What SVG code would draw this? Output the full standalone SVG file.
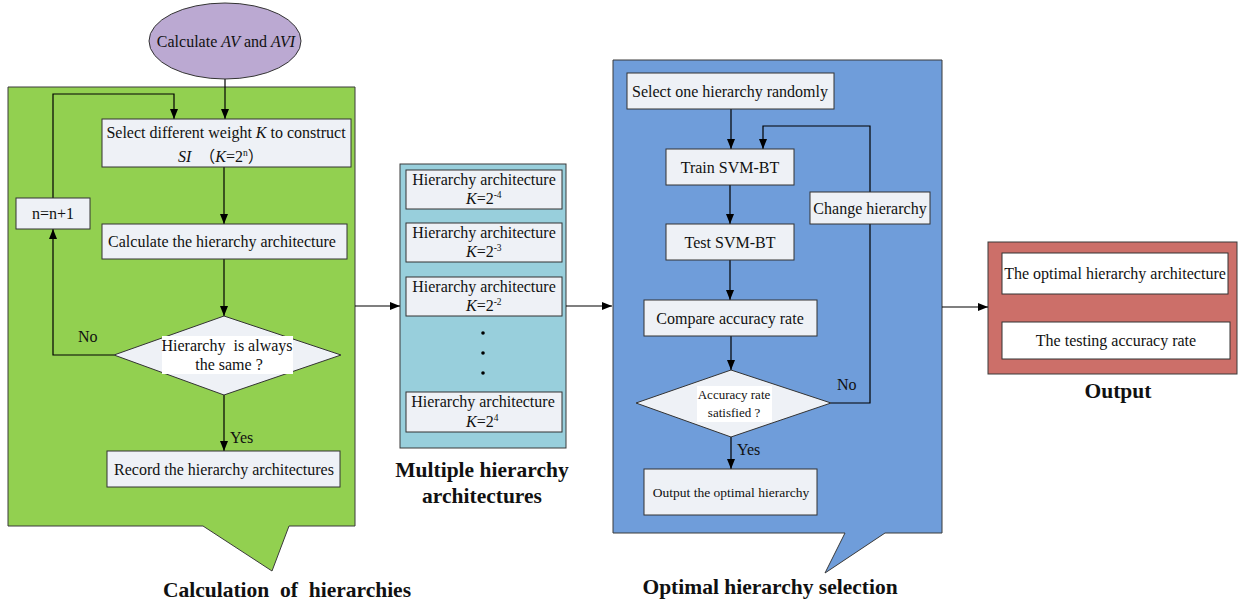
<svg xmlns="http://www.w3.org/2000/svg" width="1245" height="603" viewBox="0 0 1245 603">
<style>
text{font-family:"Liberation Serif","Times New Roman",serif;fill:#111;font-size:16px;white-space:pre}
.cjk{font-family:"Liberation Serif","Noto Sans CJK SC",serif}
.c{text-anchor:middle}
.s{font-size:13px}
.s2{font-size:13.5px}
.b{font-weight:bold;font-size:21.5px}
.i{font-style:italic}
.panel{stroke:#3a3a3a;stroke-width:1}
.box{fill:#EEF1F6;stroke:#333;stroke-width:1}
.wbox{fill:#FFFFFF;stroke:#333;stroke-width:1}
.ln{fill:none;stroke:#000;stroke-width:1.2}
</style>
<defs>
<marker id="ah" viewBox="0 0 10 10" refX="10" refY="5" markerWidth="10" markerHeight="10" markerUnits="userSpaceOnUse" orient="auto">
<path d="M0,1 L10,5 L0,9 Z" fill="#000"/>
</marker>
</defs>
<rect width="1245" height="603" fill="#fff"/>

<g id="panel-calc">
<path class="panel" d="M8,87 H355 V526 H289 L272,571 L203,526 H8 Z" fill="#92D050"/>
<text class="b c" x="287" y="597">Calculation  of  hierarchies</text>
</g>
<g id="panel-multi">
<rect class="panel" x="400" y="164" width="166" height="284" fill="#98CFDC"/>
<text class="b c" x="482" y="477">Multiple hierarchy</text>
<text class="b c" x="482" y="503">architectures</text>
</g>
<g id="panel-opt">
<path class="panel" d="M613,60 H942 V533 H885 L825,573 L845,533 H613 Z" fill="#6F9DDA"/>
<text class="b c" x="770" y="594">Optimal hierarchy selection</text>
</g>
<g id="panel-out">
<rect class="panel" x="988" y="242" width="249" height="132" fill="#CC6F69"/>
<text class="b c" x="1118" y="398">Output</text>
</g>

<g id="connectors">
<line class="ln" x1="225" y1="79" x2="225" y2="119" marker-end="url(#ah)"/>
<polyline class="ln" points="53,198 53,94 174,94 174,119" marker-end="url(#ah)"/>
<line class="ln" x1="224" y1="167" x2="224" y2="224" marker-end="url(#ah)"/>
<line class="ln" x1="224" y1="259" x2="224" y2="316" marker-end="url(#ah)"/>
<polyline class="ln" points="114,355 53,355 53,229" marker-end="url(#ah)"/>
<line class="ln" x1="224" y1="395" x2="224" y2="451" marker-end="url(#ah)"/>
<line class="ln" x1="355" y1="306" x2="400" y2="306" marker-end="url(#ah)"/>
<line class="ln" x1="566" y1="306" x2="612" y2="306" marker-end="url(#ah)"/>
<line class="ln" x1="731" y1="109" x2="731" y2="149" marker-end="url(#ah)"/>
<polyline class="ln" points="870,192 870,126 763,126 763,149" marker-end="url(#ah)"/>
<line class="ln" x1="730" y1="185" x2="730" y2="224" marker-end="url(#ah)"/>
<line class="ln" x1="730" y1="260" x2="730" y2="300" marker-end="url(#ah)"/>
<line class="ln" x1="731" y1="336" x2="731" y2="370" marker-end="url(#ah)"/>
<polyline class="ln" points="831,403 870,403 870,224"/>
<line class="ln" x1="731" y1="437" x2="731" y2="469" marker-end="url(#ah)"/>
<line class="ln" x1="942" y1="307" x2="988" y2="307" marker-end="url(#ah)"/>
<text x="78" y="342">No</text>
<text x="230" y="443">Yes</text>
<text x="837" y="390">No</text>
<text x="737" y="455">Yes</text>
</g>

<g id="n-start">
<ellipse cx="225" cy="41" rx="76" ry="38" fill="#BBA9D2" stroke="#333" stroke-width="1"/>
<text class="c" x="226" y="47" font-size="16.5">Calculate <tspan class="i">AV</tspan> and <tspan class="i">AVI</tspan></text>
</g>
<g id="n-select">
<rect class="box" x="102" y="119" width="249" height="48"/>
<text class="c" x="226" y="138">Select different weight <tspan class="i">K</tspan> to construct</text>
<text class="cjk" x="178" y="162"><tspan class="i">SI</tspan>  （<tspan class="i">K</tspan>=2<tspan font-size="9.5" dy="-6">n</tspan><tspan dy="6">）</tspan></text>
</g>
<g id="n-inc">
<rect class="box" x="16" y="198" width="74" height="31"/>
<text class="c" x="53" y="219">n=n+1</text>
</g>
<g id="n-calc">
<rect class="box" x="102" y="224" width="245" height="35"/>
<text class="c" x="222" y="247">Calculate the hierarchy architecture</text>
</g>
<g id="n-same">
<polygon class="box" points="224,316 341,355 224,395 114,355"/>
<rect x="162" y="336" width="131" height="38" fill="#fff"/>
<text class="c" x="227" y="351">Hierarchy  is always</text>
<text class="c" x="229" y="370">the same ?</text>
</g>
<g id="n-record">
<rect class="box" x="107" y="451" width="233" height="36"/>
<text class="c" x="224" y="475">Record the hierarchy architectures</text>
</g>

<g id="n-h1">
<rect class="box" x="406" y="170" width="156" height="39"/>
<text class="c" x="484" y="185">Hierarchy architecture</text>
<text x="466" y="204"><tspan class="i">K</tspan>=2<tspan font-size="9.5" dy="-6">-4</tspan></text>
</g>
<g id="n-h2">
<rect class="box" x="406" y="223" width="156" height="39"/>
<text class="c" x="484" y="238">Hierarchy architecture</text>
<text x="466" y="257"><tspan class="i">K</tspan>=2<tspan font-size="9.5" dy="-6">-3</tspan></text>
</g>
<g id="n-h3">
<rect class="box" x="406" y="277" width="156" height="39"/>
<text class="c" x="484" y="292">Hierarchy architecture</text>
<text x="466" y="311"><tspan class="i">K</tspan>=2<tspan font-size="9.5" dy="-6">-2</tspan></text>
</g>
<g id="n-dots">
<circle cx="483" cy="333" r="1.8" fill="#000"/>
<circle cx="483" cy="353" r="1.8" fill="#000"/>
<circle cx="483" cy="373" r="1.8" fill="#000"/>
</g>
<g id="n-h4">
<rect class="box" x="406" y="392" width="156" height="40"/>
<text class="c" x="483" y="407">Hierarchy architecture</text>
<text x="466" y="427"><tspan class="i">K</tspan>=2<tspan font-size="9.5" dy="-6">4</tspan></text>
</g>

<g id="n-random">
<rect class="box" x="627" y="73" width="207" height="36"/>
<text class="c" x="730" y="97">Select one hierarchy randomly</text>
</g>
<g id="n-train">
<rect class="box" x="666" y="149" width="128" height="36"/>
<text class="c" x="730" y="173">Train SVM-BT</text>
</g>
<g id="n-change">
<rect class="box" x="810" y="192" width="120" height="32"/>
<text class="c" x="870" y="214">Change hierarchy</text>
</g>
<g id="n-test">
<rect class="box" x="666" y="224" width="128" height="36"/>
<text class="c" x="730" y="248">Test SVM-BT</text>
</g>
<g id="n-compare">
<rect class="box" x="644" y="300" width="173" height="36"/>
<text class="c" x="730" y="324">Compare accuracy rate</text>
</g>
<g id="n-satisfied">
<polygon class="box" points="731,370 831,403 731,437 636,403"/>
<rect x="697" y="386" width="75" height="36" fill="#fff"/>
<text class="c s" x="734" y="399">Accuracy rate</text>
<text class="c s" x="734" y="417">satisfied ?</text>
</g>
<g id="n-outopt">
<rect class="box" x="644" y="469" width="173" height="46"/>
<text class="c s2" x="731" y="497">Output the optimal hierarchy</text>
</g>

<g id="n-outarch">
<rect class="wbox" x="1002" y="253" width="226" height="41"/>
<text class="c" x="1115" y="279">The optimal hierarchy architecture</text>
</g>
<g id="n-outacc">
<rect class="wbox" x="1002" y="322" width="228" height="37"/>
<text class="c" x="1116" y="346">The testing accuracy rate</text>
</g>
</svg>
